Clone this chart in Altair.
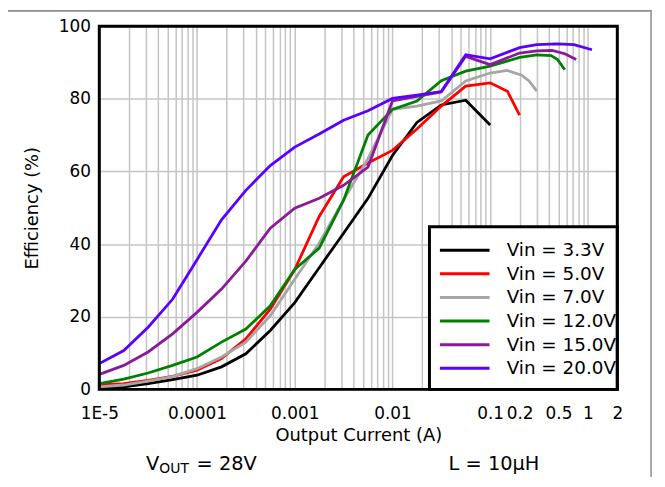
import altair as alt
import pandas as pd

# ---------------- data ----------------
series = ["Vin = 3.3V", "Vin = 5.0V", "Vin = 7.0V", "Vin = 12.0V", "Vin = 15.0V", "Vin = 20.0V"]
colors = ["#000000", "#ff0000", "#a6a6a6", "#008000", "#8b1a9b", "#5a00ff"]

base_current = [1e-5, 1.78e-5, 3.16e-5, 5.62e-5, 1e-4, 1.78e-4, 3.16e-4, 5.62e-4,
                1e-3, 1.78e-3, 3.16e-3, 5.62e-3, 1e-2, 1.78e-2, 3.16e-2, 5.62e-2, 0.1]

i_33 = base_current
eff_33 = [0.5, 0.7, 1.6, 2.7, 3.9, 6.2, 9.8, 16.2, 23.9, 33.5, 43.0, 52.6, 64.4, 73.5, 78.3, 79.6, 72.8]

i_50 = base_current + [0.15, 0.2]
eff_50 = [1.2, 1.6, 2.5, 3.6, 5.3, 8.5, 13.9, 22.1, 33.0, 47.6, 58.5, 62.3, 65.8, 71.7, 78.0, 83.5,
          84.4, 82.1, 75.5]

i_70 = base_current + [0.15, 0.21, 0.25, 0.3]
eff_70 = [0.7, 1.2, 2.3, 3.5, 5.7, 8.9, 13.0, 20.3, 30.3, 40.3, 52.1, 63.5, 77.1, 78.0, 79.4, 84.9,
          87.1, 87.8, 86.5, 84.9, 82.1]

i_120 = base_current + [0.2, 0.3, 0.42, 0.49, 0.58]
eff_120 = [1.6, 2.8, 4.5, 6.6, 8.9, 13.0, 16.6, 23.0, 33.0, 38.9, 52.1, 70.0, 77.1, 79.4, 85.0, 87.6,
           89.0, 91.4, 92.1, 91.9, 90.8, 88.0]

i_150 = base_current + [0.2, 0.3, 0.43, 0.58, 0.76]
eff_150 = [4.1, 6.6, 10.3, 15.3, 21.2, 27.6, 35.3, 44.4, 49.9, 52.6, 56.2, 61.2, 79.4, 80.7, 81.9, 91.7,
           89.4, 92.6, 93.2, 93.3, 92.4, 90.8]

i_200 = base_current + [0.2, 0.3, 0.49, 0.72, 1.1]
eff_200 = [7.1, 10.7, 17.1, 24.8, 35.7, 46.7, 54.8, 61.6, 66.7, 70.3, 74.1, 76.7, 80.1, 81.0, 82.0, 92.1,
           91.0, 94.1, 94.9, 95.1, 94.9, 93.5]

x_grid = [float(f"{k}e{n}") for n in range(-5, 0) for k in range(1, 10)] + [1.0, 2.0]
x_labeled = [0.0001, 0.001, 0.01, 0.1, 0.2, 0.5, 1, 2]
y_ticks = [0, 20, 40, 60, 80, 100]

footer_left = ["V", "OUT", "= 28V"]
footer_right = "L = 10µH"

# ---------------- table ----------------
pairs = [(i_33, eff_33), (i_50, eff_50), (i_70, eff_70), (i_120, eff_120), (i_150, eff_150), (i_200, eff_200)]
rows = []
for name, (xs, ys) in zip(series, pairs):
    for j, (a, b) in enumerate(zip(xs, ys)):
        rows.append({"series": name, "current": a, "eff": b, "idx": j})
df = pd.DataFrame(rows)

W, H = 522, 366
FONT = "DejaVu Sans"
GRID = "#c4c4c4"

label_expr = ("datum.value < 0.000015 ? '1E-5' : (indexof(" + str(x_labeled) +
              ", datum.value) >= 0 ? '' + datum.value : '')")

lines = alt.Chart(df).mark_line(strokeWidth=2.8, clip=True).encode(
    x=alt.X("current:Q",
            scale=alt.Scale(type="log", domain=[1e-5, 2], nice=False),
            axis=alt.Axis(values=x_grid, labelExpr=label_expr, title="Output Current (A)",
                          grid=True, gridColor=GRID, gridWidth=1.5, ticks=False, tickSize=0,
                          domain=False, labelFontSize=17, labelPadding=16.5, labelOverlap=False,
                          labelBound=False, labelFlush=False, labelColor="black",
                          titleFontSize=18, titleFontWeight="normal", titleColor="black",
                          titleY=46.5, titleBaseline="middle")),
    y=alt.Y("eff:Q",
            scale=alt.Scale(domain=[0, 100], nice=False),
            axis=alt.Axis(values=y_ticks, title="Efficiency (%)", grid=True, gridColor=GRID,
                          gridWidth=1.5, ticks=False, tickSize=0, domain=False, labelFontSize=17,
                          labelPadding=9, labelColor="black", titleFontSize=18,
                          titleFontWeight="normal", titleColor="black", titleX=-67, titleY=H / 2,
                          titleAngle=270, titleBaseline="middle", titleAlign="center")),
    color=alt.Color("series:N",
                    scale=alt.Scale(domain=series, range=colors),
                    legend=alt.Legend(title=None, orient="none", legendX=359, legendY=216.5,
                                      symbolType="M-5,0L5,0", symbolSize=100, symbolStrokeWidth=3,
                                      labelFontSize=18.5, labelOffset=33, rowPadding=4.8,
                                      padding=0, labelColor="black", labelLimit=300)),
    order="idx:Q",
)

one = pd.DataFrame({"k": [0]})

legend_box = alt.Chart(one).mark_rect(fill="white", stroke="black", strokeWidth=3).encode(
    x=alt.value(332.7), x2=alt.value(W), y=alt.value(202.2), y2=alt.value(H))

frame = alt.Chart(one).mark_rect(filled=False, stroke="black", strokeWidth=3).encode(
    x=alt.value(0), x2=alt.value(W), y=alt.value(0), y2=alt.value(H))

outer_right = alt.Chart(one).mark_rule(color="#8c8c8c", strokeWidth=1.5).encode(
    x=alt.value(556), y=alt.value(-16.5), y2=alt.value(470))
outer_top = alt.Chart(one).mark_rule(color="#8c8c8c", strokeWidth=2).encode(
    x=alt.value(-92), x2=alt.value(556), y=alt.value(-15.4))

ft = pd.DataFrame({"t": footer_left + [footer_right],
                   "xp": [47, 60.5, 98, 352], "yp": [441.5, 446.5, 441.5, 441.5],
                   "fs": [19.5, 14, 19.5, 19.5]})
footer = alt.Chart(ft).mark_text(align="left", baseline="middle", color="black", font=FONT).encode(
    text="t:N", x=alt.X("xp:Q", scale=None), y=alt.Y("yp:Q", scale=None),
    size=alt.Size("fs:Q", scale=None, legend=None))

chart = alt.layer(lines, legend_box, frame, footer, outer_right, outer_top).properties(
    width=W, height=H,
    autosize=alt.AutoSizeParams(type="none"),
    padding={"left": 92, "top": 16.5, "right": 40, "bottom": 86},
).configure(font=FONT).configure_view(stroke=None)

chart.save("out.html", embed_options={"renderer": "svg", "actions": False})
